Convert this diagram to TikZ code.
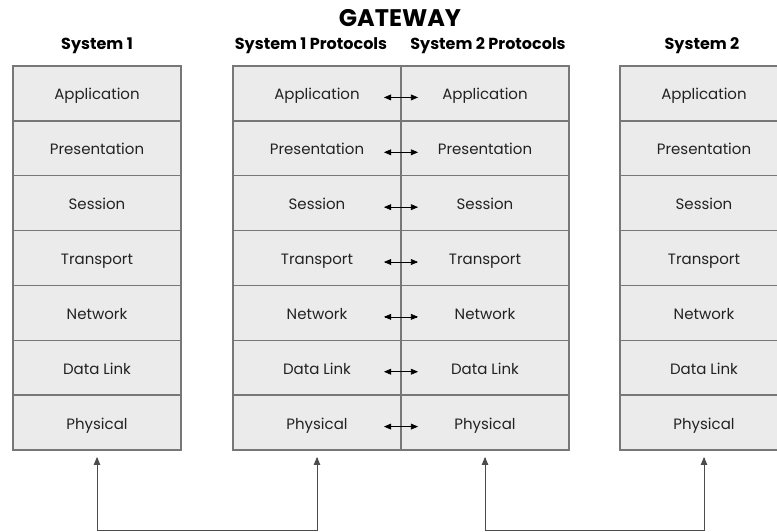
\documentclass[tikz,border=0pt]{standalone}
\usepackage{fontspec}
\setmainfont{Poppins}
\usetikzlibrary{arrows, positioning}
\definecolor{layerfill}{HTML}{EBEBEB}
\definecolor{layerline}{HTML}{777777}
\definecolor{inktext}{HTML}{222222}

\begin{document}
\begin{tikzpicture}[x=1pt, y=-1pt,
    layer/.style={draw=layerline, fill=layerfill, line width=1.4pt, outer sep=0pt,
      minimum width=168pt, minimum height=54.86pt, inner sep=0pt,
      text height=13pt, text depth=0pt,
      text=inktext, font=\fontsize{15}{17}\selectfont},
    head/.style={inner sep=0pt, text=black, font=\bfseries\fontsize{16}{19}\selectfont},
    link/.style={draw=black!70, line width=0.8pt}]
  \useasboundingbox (0,0) rectangle (777,531);

  % the two end systems and the gateway halves
  \foreach \lname [count=\i] in {Application, Presentation, Session, Transport, Network, Data Link, Physical} {
    \node[layer] (s1-\i) at (97, {66+54.86*(\i-0.5)}) {\lname};
    \node[layer] (gl-\i) at (317, {66+54.86*(\i-0.5)}) {\lname};
    \node[layer] (gr-\i) at (485, {66+54.86*(\i-0.5)}) {\lname};
    \node[layer] (s2-\i) at (704, {66+54.86*(\i-0.5)}) {\lname};
    \draw[link, draw=black, line width=0.6pt, triangle 45-triangle 45] ([xshift=-17pt, yshift=-4pt]gl-\i.east) -- ([xshift=17pt, yshift=-4pt]gr-\i.west);
  }

  % headings
  \node[head, font=\bfseries\fontsize{24}{26}\selectfont] (gw) at (400, 18) {GATEWAY};
  \node[head] (h1) at (97, 46) {System 1};
  \node[head] (h1p) at (311, 46) {System 1 Protocols};
  \node[head] (h2p) at (488, 46) {System 2 Protocols};
  \node[head] (h2) at (702, 46) {System 2};

  % physical links underneath
  \coordinate (low) at (0, 530);
  \draw[link, triangle 45-triangle 45] ([yshift=-7pt]s1-7.south) -- (s1-7.south |- low) -- (gl-7.south |- low) -- ([yshift=-7pt]gl-7.south);
  \draw[link, triangle 45-triangle 45] ([yshift=-7pt]gr-7.south) -- (gr-7.south |- low) -- (s2-7.south |- low) -- ([yshift=-7pt]s2-7.south);
\end{tikzpicture}
\end{document}
